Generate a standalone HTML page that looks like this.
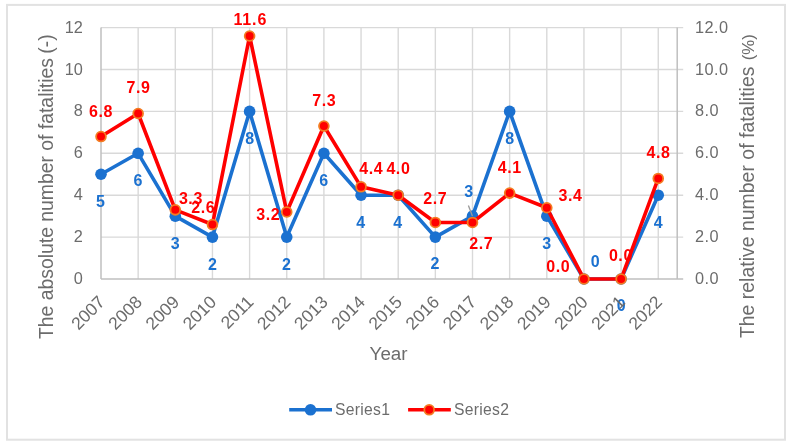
<!DOCTYPE html>
<html><head><meta charset="utf-8"><style>
html,body{margin:0;padding:0;background:#fff;width:791px;height:446px;overflow:hidden}
svg{display:block;will-change:transform}
text{font-family:"Liberation Sans", sans-serif}
</style></head><body>
<svg width="791" height="446" viewBox="0 0 791 446">
<rect x="7" y="4.9" width="778" height="434.8" fill="#fff" stroke="#e2e2e2" stroke-width="2"/>
<line x1="101.0" y1="237.10" x2="683.2" y2="237.10" stroke="#d9d9d9" stroke-width="1.4"/>
<line x1="101.0" y1="195.20" x2="683.2" y2="195.20" stroke="#d9d9d9" stroke-width="1.4"/>
<line x1="101.0" y1="153.30" x2="683.2" y2="153.30" stroke="#d9d9d9" stroke-width="1.4"/>
<line x1="101.0" y1="111.40" x2="683.2" y2="111.40" stroke="#d9d9d9" stroke-width="1.4"/>
<line x1="101.0" y1="69.50" x2="683.2" y2="69.50" stroke="#d9d9d9" stroke-width="1.4"/>
<line x1="101.0" y1="27.60" x2="683.2" y2="27.60" stroke="#d9d9d9" stroke-width="1.4"/>
<line x1="138.15" y1="27.60" x2="138.15" y2="279.0" stroke="#d9d9d9" stroke-width="1.4"/>
<line x1="175.30" y1="27.60" x2="175.30" y2="279.0" stroke="#d9d9d9" stroke-width="1.4"/>
<line x1="212.45" y1="27.60" x2="212.45" y2="279.0" stroke="#d9d9d9" stroke-width="1.4"/>
<line x1="249.60" y1="27.60" x2="249.60" y2="279.0" stroke="#d9d9d9" stroke-width="1.4"/>
<line x1="286.75" y1="27.60" x2="286.75" y2="279.0" stroke="#d9d9d9" stroke-width="1.4"/>
<line x1="323.90" y1="27.60" x2="323.90" y2="279.0" stroke="#d9d9d9" stroke-width="1.4"/>
<line x1="361.05" y1="27.60" x2="361.05" y2="279.0" stroke="#d9d9d9" stroke-width="1.4"/>
<line x1="398.20" y1="27.60" x2="398.20" y2="279.0" stroke="#d9d9d9" stroke-width="1.4"/>
<line x1="435.35" y1="27.60" x2="435.35" y2="279.0" stroke="#d9d9d9" stroke-width="1.4"/>
<line x1="472.50" y1="27.60" x2="472.50" y2="279.0" stroke="#d9d9d9" stroke-width="1.4"/>
<line x1="509.65" y1="27.60" x2="509.65" y2="279.0" stroke="#d9d9d9" stroke-width="1.4"/>
<line x1="546.80" y1="27.60" x2="546.80" y2="279.0" stroke="#d9d9d9" stroke-width="1.4"/>
<line x1="583.95" y1="27.60" x2="583.95" y2="279.0" stroke="#d9d9d9" stroke-width="1.4"/>
<line x1="621.10" y1="27.60" x2="621.10" y2="279.0" stroke="#d9d9d9" stroke-width="1.4"/>
<line x1="658.25" y1="27.60" x2="658.25" y2="279.0" stroke="#d9d9d9" stroke-width="1.4"/>
<line x1="101.0" y1="27.60" x2="101.0" y2="279.0" stroke="#bfbfbf" stroke-width="1.5"/>
<line x1="677.2" y1="27.60" x2="677.2" y2="279.0" stroke="#bfbfbf" stroke-width="1.5"/>
<line x1="101.0" y1="279.0" x2="683.2" y2="279.0" stroke="#bfbfbf" stroke-width="1.5"/>
<text x="82.9" y="284.00" text-anchor="end" font-size="16.3" fill="#6c6c6c">0</text>
<text x="695.1" y="284.00" text-anchor="start" font-size="16.3" letter-spacing="0.45" fill="#6c6c6c">0.0</text>
<text x="82.9" y="242.10" text-anchor="end" font-size="16.3" fill="#6c6c6c">2</text>
<text x="695.1" y="242.10" text-anchor="start" font-size="16.3" letter-spacing="0.45" fill="#6c6c6c">2.0</text>
<text x="82.9" y="200.20" text-anchor="end" font-size="16.3" fill="#6c6c6c">4</text>
<text x="695.1" y="200.20" text-anchor="start" font-size="16.3" letter-spacing="0.45" fill="#6c6c6c">4.0</text>
<text x="82.9" y="158.30" text-anchor="end" font-size="16.3" fill="#6c6c6c">6</text>
<text x="695.1" y="158.30" text-anchor="start" font-size="16.3" letter-spacing="0.45" fill="#6c6c6c">6.0</text>
<text x="82.9" y="116.40" text-anchor="end" font-size="16.3" fill="#6c6c6c">8</text>
<text x="695.1" y="116.40" text-anchor="start" font-size="16.3" letter-spacing="0.45" fill="#6c6c6c">8.0</text>
<text x="82.9" y="74.50" text-anchor="end" font-size="16.3" fill="#6c6c6c">10</text>
<text x="695.1" y="74.50" text-anchor="start" font-size="16.3" letter-spacing="0.45" fill="#6c6c6c">10.0</text>
<text x="82.9" y="32.60" text-anchor="end" font-size="16.3" fill="#6c6c6c">12</text>
<text x="695.1" y="32.60" text-anchor="start" font-size="16.3" letter-spacing="0.45" fill="#6c6c6c">12.0</text>
<text transform="translate(52.6,339) rotate(-90)" text-anchor="start" font-size="19.35" textLength="280.9" lengthAdjust="spacing" fill="#6c6c6c">The absolute number of fatalities</text>
<text transform="translate(52.6,34.3) rotate(-90)" text-anchor="end" font-size="19.35" fill="#6c6c6c">(-)</text>
<text transform="translate(754,338.1) rotate(-90)" text-anchor="start" font-size="19.35" textLength="271.5" lengthAdjust="spacing" fill="#6c6c6c">The relative number of fatalities</text>
<text transform="translate(754,34.2) rotate(-90)" text-anchor="end" font-size="16.8" fill="#6c6c6c">(%)</text>
<text x="388.6" y="360.3" text-anchor="middle" font-size="18.8" fill="#6c6c6c">Year</text>
<polyline points="101.00,174.25 138.15,153.30 175.30,216.15 212.45,237.10 249.60,111.40 286.75,237.10 323.90,153.30 361.05,195.20 398.20,195.20 435.35,237.10 472.50,216.15 509.65,111.40 546.80,216.15 583.95,279.00 621.10,279.00 658.25,195.20" fill="none" stroke="#1b71d0" stroke-width="3.6" stroke-linejoin="round"/>
<circle cx="101.00" cy="174.25" r="5.8" fill="#1b71d0"/>
<circle cx="138.15" cy="153.30" r="5.8" fill="#1b71d0"/>
<circle cx="175.30" cy="216.15" r="5.8" fill="#1b71d0"/>
<circle cx="212.45" cy="237.10" r="5.8" fill="#1b71d0"/>
<circle cx="249.60" cy="111.40" r="5.8" fill="#1b71d0"/>
<circle cx="286.75" cy="237.10" r="5.8" fill="#1b71d0"/>
<circle cx="323.90" cy="153.30" r="5.8" fill="#1b71d0"/>
<circle cx="361.05" cy="195.20" r="5.8" fill="#1b71d0"/>
<circle cx="398.20" cy="195.20" r="5.8" fill="#1b71d0"/>
<circle cx="435.35" cy="237.10" r="5.8" fill="#1b71d0"/>
<circle cx="472.50" cy="216.15" r="5.8" fill="#1b71d0"/>
<circle cx="509.65" cy="111.40" r="5.8" fill="#1b71d0"/>
<circle cx="546.80" cy="216.15" r="5.8" fill="#1b71d0"/>
<circle cx="583.95" cy="279.00" r="5.8" fill="#1b71d0"/>
<circle cx="621.10" cy="279.00" r="5.8" fill="#1b71d0"/>
<circle cx="658.25" cy="195.20" r="5.8" fill="#1b71d0"/>
<polyline points="101.00,136.54 138.15,113.50 175.30,209.87 212.45,224.53 249.60,35.98 286.75,211.96 323.90,126.06 361.05,186.82 398.20,195.20 435.35,222.44 472.50,222.44 509.65,193.11 546.80,207.77 583.95,279.00 621.10,279.00 658.25,178.44" fill="none" stroke="#ff0000" stroke-width="3.6" stroke-linejoin="round"/>
<circle cx="101.00" cy="136.54" r="4.9" fill="#ff0000" stroke="#f47c22" stroke-width="1.8"/>
<circle cx="138.15" cy="113.50" r="4.9" fill="#ff0000" stroke="#f47c22" stroke-width="1.8"/>
<circle cx="175.30" cy="209.87" r="4.9" fill="#ff0000" stroke="#f47c22" stroke-width="1.8"/>
<circle cx="212.45" cy="224.53" r="4.9" fill="#ff0000" stroke="#f47c22" stroke-width="1.8"/>
<circle cx="249.60" cy="35.98" r="4.9" fill="#ff0000" stroke="#f47c22" stroke-width="1.8"/>
<circle cx="286.75" cy="211.96" r="4.9" fill="#ff0000" stroke="#f47c22" stroke-width="1.8"/>
<circle cx="323.90" cy="126.06" r="4.9" fill="#ff0000" stroke="#f47c22" stroke-width="1.8"/>
<circle cx="361.05" cy="186.82" r="4.9" fill="#ff0000" stroke="#f47c22" stroke-width="1.8"/>
<circle cx="398.20" cy="195.20" r="4.9" fill="#ff0000" stroke="#f47c22" stroke-width="1.8"/>
<circle cx="435.35" cy="222.44" r="4.9" fill="#ff0000" stroke="#f47c22" stroke-width="1.8"/>
<circle cx="472.50" cy="222.44" r="4.9" fill="#ff0000" stroke="#f47c22" stroke-width="1.8"/>
<circle cx="509.65" cy="193.11" r="4.9" fill="#ff0000" stroke="#f47c22" stroke-width="1.8"/>
<circle cx="546.80" cy="207.77" r="4.9" fill="#ff0000" stroke="#f47c22" stroke-width="1.8"/>
<circle cx="583.95" cy="279.00" r="4.9" fill="#ff0000" stroke="#f47c22" stroke-width="1.8"/>
<circle cx="621.10" cy="279.00" r="4.9" fill="#ff0000" stroke="#f47c22" stroke-width="1.8"/>
<circle cx="658.25" cy="178.44" r="4.9" fill="#ff0000" stroke="#f47c22" stroke-width="1.8"/>
<line x1="468.4" y1="205.5" x2="472.4" y2="215.9" stroke="#9a9a9a" stroke-width="1.3"/>
<text x="100.50" y="206.73" text-anchor="middle" font-size="16.0" font-weight="bold" fill="#1b71d0">5</text>
<text x="138.00" y="185.73" text-anchor="middle" font-size="16.0" font-weight="bold" fill="#1b71d0">6</text>
<text x="175.20" y="249.33" text-anchor="middle" font-size="16.0" font-weight="bold" fill="#1b71d0">3</text>
<text x="212.40" y="269.73" text-anchor="middle" font-size="16.0" font-weight="bold" fill="#1b71d0">2</text>
<text x="249.70" y="144.03" text-anchor="middle" font-size="16.0" font-weight="bold" fill="#1b71d0">8</text>
<text x="286.40" y="269.73" text-anchor="middle" font-size="16.0" font-weight="bold" fill="#1b71d0">2</text>
<text x="323.80" y="185.53" text-anchor="middle" font-size="16.0" font-weight="bold" fill="#1b71d0">6</text>
<text x="360.80" y="228.33" text-anchor="middle" font-size="16.0" font-weight="bold" fill="#1b71d0">4</text>
<text x="397.80" y="228.33" text-anchor="middle" font-size="16.0" font-weight="bold" fill="#1b71d0">4</text>
<text x="435.00" y="269.43" text-anchor="middle" font-size="16.0" font-weight="bold" fill="#1b71d0">2</text>
<text x="468.70" y="196.93" text-anchor="middle" font-size="16.0" font-weight="bold" fill="#1b71d0">3</text>
<text x="509.70" y="144.13" text-anchor="middle" font-size="16.0" font-weight="bold" fill="#1b71d0">8</text>
<text x="546.70" y="249.23" text-anchor="middle" font-size="16.0" font-weight="bold" fill="#1b71d0">3</text>
<text x="595.30" y="267.13" text-anchor="middle" font-size="16.0" font-weight="bold" fill="#1b71d0">0</text>
<text x="621.20" y="311.43" text-anchor="middle" font-size="16.0" font-weight="bold" fill="#1b71d0">0</text>
<text x="658.20" y="228.33" text-anchor="middle" font-size="16.0" font-weight="bold" fill="#1b71d0">4</text>
<text x="101.00" y="117.03" text-anchor="middle" font-size="16.0" font-weight="bold" letter-spacing="0.6" fill="#ff0000">6.8</text>
<text x="138.50" y="93.43" text-anchor="middle" font-size="16.0" font-weight="bold" letter-spacing="0.6" fill="#ff0000">7.9</text>
<text x="190.90" y="204.03" text-anchor="middle" font-size="16.0" font-weight="bold" letter-spacing="0.6" fill="#ff0000">3.3</text>
<text x="203.20" y="212.83" text-anchor="middle" font-size="16.0" font-weight="bold" letter-spacing="0.6" fill="#ff0000">2.6</text>
<text x="250.35" y="24.83" text-anchor="middle" font-size="16.0" font-weight="bold" letter-spacing="0.9" fill="#ff0000">11.6</text>
<text x="268.20" y="220.43" text-anchor="middle" font-size="16.0" font-weight="bold" letter-spacing="0.6" fill="#ff0000">3.2</text>
<text x="324.30" y="105.63" text-anchor="middle" font-size="16.0" font-weight="bold" letter-spacing="0.6" fill="#ff0000">7.3</text>
<text x="371.30" y="174.13" text-anchor="middle" font-size="16.0" font-weight="bold" letter-spacing="0.6" fill="#ff0000">4.4</text>
<text x="398.40" y="174.13" text-anchor="middle" font-size="16.0" font-weight="bold" letter-spacing="0.6" fill="#ff0000">4.0</text>
<text x="435.30" y="203.93" text-anchor="middle" font-size="16.0" font-weight="bold" letter-spacing="0.6" fill="#ff0000">2.7</text>
<text x="481.20" y="248.83" text-anchor="middle" font-size="16.0" font-weight="bold" letter-spacing="0.6" fill="#ff0000">2.7</text>
<text x="509.80" y="172.83" text-anchor="middle" font-size="16.0" font-weight="bold" letter-spacing="0.6" fill="#ff0000">4.1</text>
<text x="570.60" y="201.03" text-anchor="middle" font-size="16.0" font-weight="bold" letter-spacing="0.6" fill="#ff0000">3.4</text>
<text x="558.20" y="271.73" text-anchor="middle" font-size="16.0" font-weight="bold" letter-spacing="0.6" fill="#ff0000">0.0</text>
<text x="620.90" y="260.73" text-anchor="middle" font-size="16.0" font-weight="bold" letter-spacing="0.6" fill="#ff0000">0.0</text>
<text x="658.60" y="158.33" text-anchor="middle" font-size="16.0" font-weight="bold" letter-spacing="0.6" fill="#ff0000">4.8</text>
<text transform="translate(106.00,303.20) rotate(-45)" text-anchor="end" font-size="17.5" fill="#6c6c6c">2007</text>
<text transform="translate(143.15,303.20) rotate(-45)" text-anchor="end" font-size="17.5" fill="#6c6c6c">2008</text>
<text transform="translate(180.30,303.20) rotate(-45)" text-anchor="end" font-size="17.5" fill="#6c6c6c">2009</text>
<text transform="translate(217.45,303.20) rotate(-45)" text-anchor="end" font-size="17.5" fill="#6c6c6c">2010</text>
<text transform="translate(254.60,303.20) rotate(-45)" text-anchor="end" font-size="17.5" fill="#6c6c6c">2011</text>
<text transform="translate(291.75,303.20) rotate(-45)" text-anchor="end" font-size="17.5" fill="#6c6c6c">2012</text>
<text transform="translate(328.90,303.20) rotate(-45)" text-anchor="end" font-size="17.5" fill="#6c6c6c">2013</text>
<text transform="translate(366.05,303.20) rotate(-45)" text-anchor="end" font-size="17.5" fill="#6c6c6c">2014</text>
<text transform="translate(403.20,303.20) rotate(-45)" text-anchor="end" font-size="17.5" fill="#6c6c6c">2015</text>
<text transform="translate(440.35,303.20) rotate(-45)" text-anchor="end" font-size="17.5" fill="#6c6c6c">2016</text>
<text transform="translate(477.50,303.20) rotate(-45)" text-anchor="end" font-size="17.5" fill="#6c6c6c">2017</text>
<text transform="translate(514.65,303.20) rotate(-45)" text-anchor="end" font-size="17.5" fill="#6c6c6c">2018</text>
<text transform="translate(551.80,303.20) rotate(-45)" text-anchor="end" font-size="17.5" fill="#6c6c6c">2019</text>
<text transform="translate(588.95,303.20) rotate(-45)" text-anchor="end" font-size="17.5" fill="#6c6c6c">2020</text>
<text transform="translate(626.10,303.20) rotate(-45)" text-anchor="end" font-size="17.5" fill="#6c6c6c">2021</text>
<text transform="translate(663.25,303.20) rotate(-45)" text-anchor="end" font-size="17.5" fill="#6c6c6c">2022</text>
<line x1="289.2" y1="409.8" x2="332" y2="409.8" stroke="#1b71d0" stroke-width="3.6"/>
<circle cx="310.5" cy="409.8" r="5.8" fill="#1b71d0"/>
<text x="335" y="415" font-size="15.7" letter-spacing="0.3" fill="#6c6c6c">Series1</text>
<line x1="408.1" y1="409.8" x2="450.8" y2="409.8" stroke="#ff0000" stroke-width="3.6"/>
<circle cx="429.2" cy="409.8" r="4.9" fill="#ff0000" stroke="#f47c22" stroke-width="1.8"/>
<text x="453.9" y="415" font-size="15.7" letter-spacing="0.3" fill="#6c6c6c">Series2</text>
</svg>
</body></html>
